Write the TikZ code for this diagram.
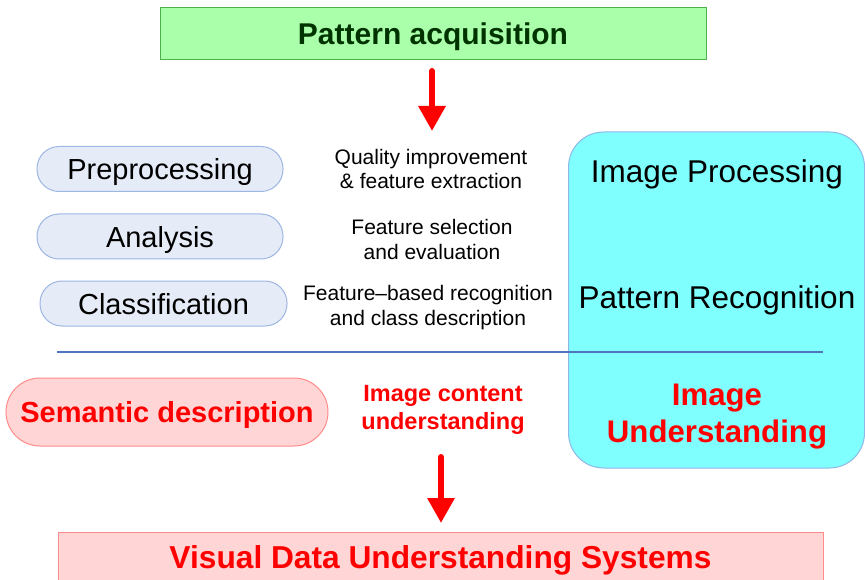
\documentclass[tikz,border=0pt]{standalone}
\usepackage{fontspec}
\setmainfont{Liberation Sans}
\usetikzlibrary{arrows.meta}

\definecolor{accfill}{HTML}{AAFFAA}
\definecolor{accdraw}{HTML}{4CB04C}
\definecolor{acctext}{HTML}{003300}
\definecolor{pillfill}{HTML}{E6ECF7}
\definecolor{pilldraw}{HTML}{9DB6E2}
\definecolor{ipfill}{HTML}{80FFFF}
\definecolor{ipdraw}{HTML}{8FB8E6}
\definecolor{semfill}{HTML}{FFD5D5}
\definecolor{semdraw}{HTML}{FF8C8C}
\definecolor{sepline}{HTML}{4F74C0}
\definecolor{hotred}{HTML}{FF0000}

\tikzset{
  flat/.style={text depth=0pt},
  stagepill/.style={flat, draw=pilldraw, fill=pillfill, line width=1pt,
    rounded corners=22pt, minimum width=246pt, minimum height=45pt,
    inner sep=0pt, font=\fontsize{29}{34}\selectfont, text=black},
  desc/.style={align=center, inner sep=0pt,
    font=\fontsize{21}{24.5}\selectfont, text=black},
  paneltext/.style={flat, inner sep=0pt, font=\fontsize{31.5}{37}\selectfont},
  bigarrow/.style={draw=hotred, line width=6pt, line cap=round,
    -{Triangle[width=26pt,length=25pt]}},
}

\begin{document}
\begin{tikzpicture}[x=1pt, y=-1pt]
\useasboundingbox (0,0) rectangle (865,580);
\clip (0,0) rectangle (865,580);

% top: acquisition stage
\node[flat, draw=accdraw, fill=accfill, line width=1pt, minimum width=546pt,
      minimum height=52pt, inner sep=0pt, text=acctext,
      font=\bfseries\fontsize{30}{35}\selectfont] (acq) at (433,34) {Pattern acquisition};
\coordinate (a1s) at (432,71);
\coordinate (a1e) at (432,131);
\draw[bigarrow] (a1s) -- (a1e);

% right: image processing / recognition / understanding panel
\node[draw=ipdraw, fill=ipfill, line width=1pt, rounded corners=35pt,
      minimum width=296pt, minimum height=336pt, inner sep=0pt] (panel) at (716.5,300) {};
\node[paneltext] (ip) at (717,171) {Image Processing};
\node[paneltext] (pr) at (717,297) {Pattern Recognition};
\node[flat, align=center, inner sep=0pt, text=hotred,
      font=\bfseries\fontsize{31.2}{37}\selectfont] (iu) at (717,413) {Image\\Understanding};

% left: processing stages
\node[stagepill] (pre) at (160,169) {Preprocessing};
\node[stagepill] (ana) at (160,236.5) {Analysis};
\node[stagepill, minimum width=247pt] (cls) at (163.5,303.5) {Classification};

\node[desc] (d1) at (431,169) {Quality improvement\\\& feature extraction};
\node[desc] (d2) at (432,239.5) {Feature selection\\and evaluation};
\node[desc] (d3) at (428,307.5) {Feature–based recognition\\and class description};

% separator
\coordinate (sl) at (57,352);
\coordinate (sr) at (823,352);
\draw[sepline, line width=2.5pt] (sl) -- (sr);

% semantic level
\node[flat, draw=semdraw, fill=semfill, line width=1pt, rounded corners=34pt,
      minimum width=322pt, minimum height=68pt, inner sep=0pt, text=hotred,
      font=\bfseries\fontsize{29}{34}\selectfont] (sem) at (167,412) {Semantic description};
\node[flat, align=center, inner sep=0pt, text=hotred,
      font=\bfseries\fontsize{23.5}{28}\selectfont] (icu) at (443,407) {Image content\\understanding};

\coordinate (a2s) at (441,457);
\coordinate (a2e) at (441,523);
\draw[bigarrow] (a2s) -- (a2e);

% bottom: systems
\node[flat, draw=semdraw, fill=semfill, line width=1pt, minimum width=765pt,
      minimum height=50pt, inner sep=0pt, text=hotred,
      font=\bfseries\fontsize{31.7}{37}\selectfont] (vds) at (440.5,557) {Visual Data Understanding Systems};
\end{tikzpicture}
\end{document}
